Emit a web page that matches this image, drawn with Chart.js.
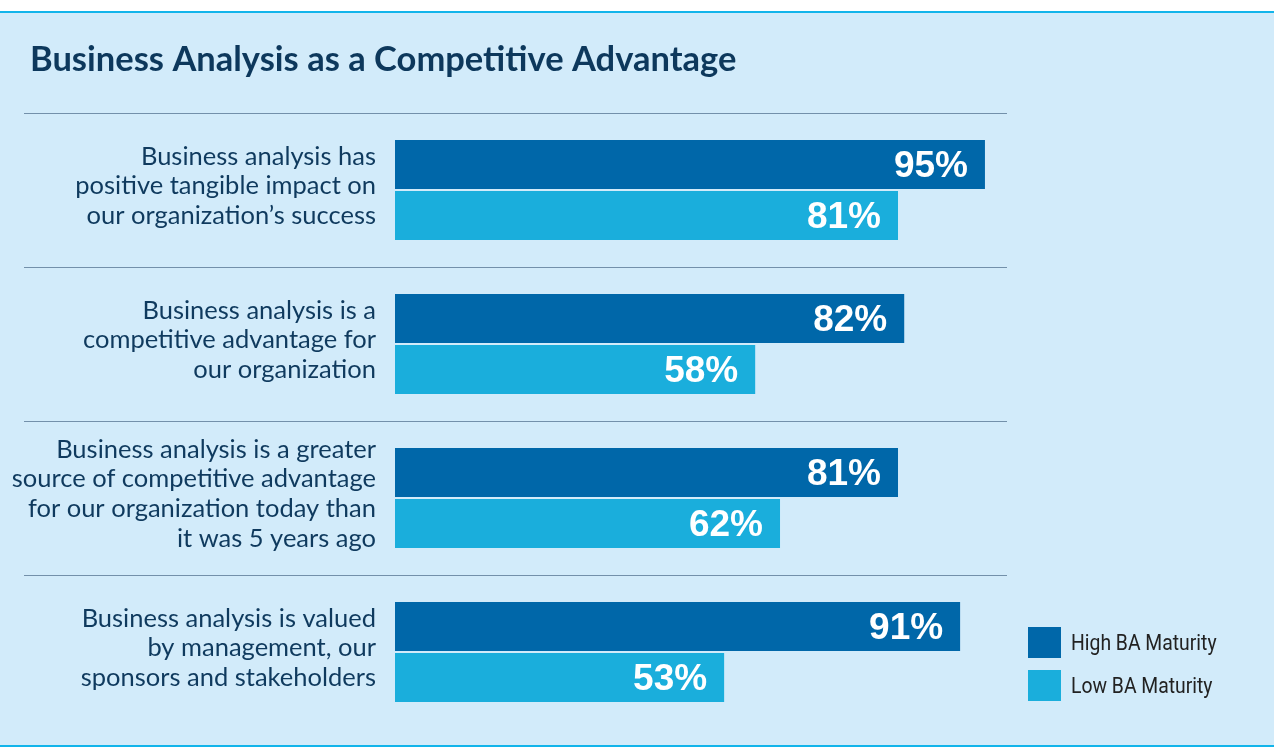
<!DOCTYPE html>
<html>
<head>
<meta charset="utf-8">
<script src="https://cdn.jsdelivr.net/npm/chart.js@4/dist/chart.umd.min.js"></script>
<style>
  html, body { margin: 0; padding: 0; background: #ffffff; }
  #wrap { position: relative; width: 1274px; height: 751px; }
</style>
</head>
<body>
<div id="wrap"><canvas id="chart" width="1274" height="751"></canvas></div>
<script>
// Chart values
const titleText = 'Business Analysis as a Competitive Advantage';
const categories = [
    ['Business analysis has', 'positive tangible impact on', 'our organization\u2019s success'],
    ['Business analysis is a', 'competitive advantage for', 'our organization'],
    ['Business analysis is a greater', 'source of competitive advantage', 'for our organization today than', 'it was 5 years ago'],
    ['Business analysis is valued', 'by management, our', 'sponsors and stakeholders']
];
const highMaturity = [95, 82, 81, 91];
const lowMaturity = [81, 58, 62, 53];
const seriesNames = ['High BA Maturity', 'Low BA Maturity'];

const DARK = '#0067a9';
const LIGHT = '#1aaedc';

// background panel, title, group separators, value labels and legend
const framePlugin = {
    id: 'frame',
    beforeDraw(chart) {
        const c = chart.ctx;
        c.save();
        c.fillStyle = '#d2ebfa';
        c.fillRect(0, 12, chart.width, 735);
        c.fillStyle = '#12b4ea';
        c.fillRect(0, 11, chart.width, 2);
        c.fillRect(0, 745, chart.width, 2);

        c.fillStyle = '#0d385c';
        c.font = 'bold 34.5px Lato';
        c.textBaseline = 'alphabetic';
        c.textAlign = 'left';
        c.fillText(titleText, 30, 71);

        // separators at the top of each category band
        const y = chart.scales.y;
        const band = (chart.chartArea.bottom - chart.chartArea.top) / categories.length;
        c.strokeStyle = '#7390aa';
        c.lineWidth = 1.2;
        categories.forEach((_, i) => {
            const top = Math.round(y.getPixelForValue(i) - band / 2) + 0.5;
            c.beginPath();
            c.moveTo(24, top);
            c.lineTo(1007, top);
            c.stroke();
        });
        c.restore();
    },
    afterDatasetsDraw(chart) {
        const c = chart.ctx;
        c.save();
        c.fillStyle = '#ffffff';
        c.font = 'bold 37px "Liberation Sans"';
        c.textAlign = 'right';
        c.textBaseline = 'middle';
        chart.data.datasets.forEach((ds, di) => {
            chart.getDatasetMeta(di).data.forEach((bar, i) => {
                c.fillText(ds.data[i] + '%', bar.x - 17, bar.y + 2);
            });
        });

        // legend (condensed look)
        c.font = '22px Roboto';
        c.textAlign = 'left';
        c.textBaseline = 'middle';
        chart.data.datasets.forEach((ds, di) => {
            const top = 627 + di * 43;
            c.fillStyle = ds.backgroundColor;
            c.fillRect(1028, top, 33, 31);
            c.save();
            c.translate(1071, top + 17);
            c.scale(0.88, 1);
            c.fillStyle = '#222222';
            c.fillText(ds.label, 0, 0);
            c.restore();
        });
        c.restore();
    }
};

new Chart(document.getElementById('chart'), {
    type: 'bar',
    data: {
        labels: categories,
        datasets: [
            { label: seriesNames[0], data: highMaturity, backgroundColor: DARK },
            { label: seriesNames[1], data: lowMaturity, backgroundColor: LIGHT }
        ]
    },
    options: {
        indexAxis: 'y',
        responsive: false,
        animation: false,
        categoryPercentage: 0.662,
        barPercentage: 0.96,
        layout: { padding: { left: 0, right: 258, top: 113, bottom: 22 } },
        scales: {
            x: { display: false, min: 0, max: 100 },
            y: {
                grid: { display: false, drawTicks: false },
                border: { display: false },
                ticks: {
                    padding: 19,
                    labelOffset: -4,
                    color: '#0f3a5e',
                    font: { family: 'Lato', size: 25.5, lineHeight: 1.16 }
                },
                afterFit(scale) {
                    scale.width = 395;
                    scale.paddingTop = 0;
                    scale.paddingBottom = 0;
                }
            }
        },
        plugins: {
            legend: { display: false },
            tooltip: { enabled: false }
        }
    },
    plugins: [framePlugin]
});
</script>
</body>
</html>
